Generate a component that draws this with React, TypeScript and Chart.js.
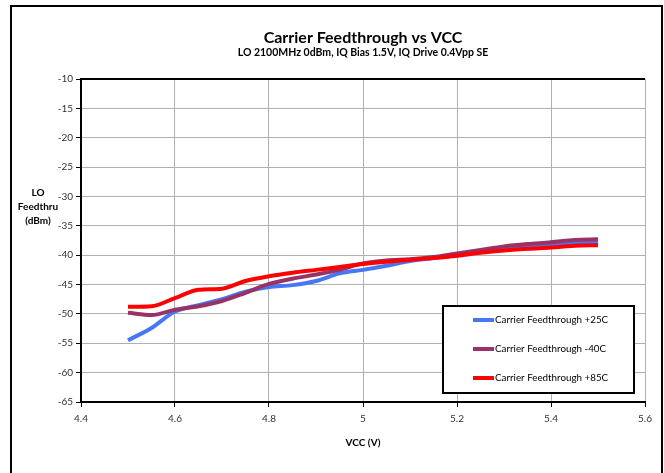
import React, { useEffect, useRef } from "react";
import { Chart, registerables } from "chart.js";

Chart.register(...registerables);

const vcc = [4.5, 4.55, 4.6, 4.65, 4.7, 4.75, 4.8, 4.85, 4.9, 4.95, 5.0, 5.05, 5.1, 5.15, 5.2, 5.25, 5.3, 5.35, 5.4, 5.45, 5.5];
const feed25 = [-54.5, -52.4, -49.6, -48.5, -47.5, -46.2, -45.4, -45.1, -44.4, -43.1, -42.5, -41.8, -41.0, -40.5, -40.0, -39.4, -39.0, -38.7, -38.4, -38.0, -37.8];
const feedM40 = [-49.8, -50.2, -49.3, -48.7, -47.8, -46.4, -44.9, -44.0, -43.3, -42.5, -41.4, -40.9, -40.7, -40.3, -39.7, -39.1, -38.5, -38.1, -37.8, -37.4, -37.3];
const feed85 = [-48.8, -48.7, -47.3, -45.9, -45.7, -44.4, -43.6, -43.0, -42.5, -42.0, -41.5, -41.1, -40.8, -40.5, -40.1, -39.6, -39.2, -38.9, -38.7, -38.4, -38.3];

const seriesLabels = ["Carrier Feedthrough +25C", "Carrier Feedthrough -40C", "Carrier Feedthrough +85C"];
const seriesColors = ["#4677f5", "#993366", "#ff0000"];

const xTicks = [4.4, 4.6, 4.8, 5.0, 5.2, 5.4, 5.6];
const yTicks = [-65, -60, -55, -50, -45, -40, -35, -30, -25, -20, -15, -10];

const titleText = "Carrier Feedthrough vs VCC";
const subtitleText = "LO 2100MHz 0dBm, IQ Bias 1.5V, IQ Drive 0.4Vpp SE";
const yTitleLines = ["LO", "Feedthru", "(dBm)"];
const xTitleText = "VCC (V)";

const FONT = "Lato, 'Open Sans', sans-serif";

const decorPlugin = {
  id: "decor",
  afterDraw(chart: any) {
    const ctx = chart.ctx as CanvasRenderingContext2D;
    const ca = chart.chartArea;
    const cx = (ca.left + ca.right) / 2;
    ctx.save();
    // outer frame
    ctx.strokeStyle = "#000";
    ctx.lineWidth = 2;
    ctx.strokeRect(11, 6, 651, 480);
    // top border of plot area
    ctx.beginPath();
    ctx.moveTo(ca.left, ca.top);
    ctx.lineTo(ca.right, ca.top);
    ctx.stroke();
    // titles
    ctx.fillStyle = "#000";
    ctx.textAlign = "center";
    ctx.textBaseline = "middle";
    ctx.font = `bold 16px ${FONT}`;
    ctx.fillText(titleText, cx, 38);
    ctx.font = `bold 10.5px ${FONT}`;
    ctx.fillText(subtitleText, cx, 53);
    ctx.font = `bold 10px ${FONT}`;
    yTitleLines.forEach((t, i) => ctx.fillText(t, 38, 193 + i * 14));
    ctx.fillText(xTitleText, cx, 443);
    // legend
    const lx = 443, ly = 306, lw = 191, lh = 87;
    ctx.fillStyle = "#fff";
    ctx.fillRect(lx, ly, lw, lh);
    ctx.strokeStyle = "#000";
    ctx.lineWidth = 2;
    ctx.strokeRect(lx, ly, lw, lh);
    const rows = [320, 349, 378];
    chart.data.datasets.forEach((ds: any, i: number) => {
      const y = rows[i];
      ctx.strokeStyle = ds.borderColor;
      ctx.lineWidth = 4;
      ctx.beginPath();
      ctx.moveTo(473, y);
      ctx.lineTo(494, y);
      ctx.stroke();
      ctx.fillStyle = "#000";
      ctx.textAlign = "left";
      ctx.font = `9.8px ${FONT}`;
      ctx.fillText(ds.label, 495, y);
    });
    ctx.restore();
  },
};

export default function App() {
  const ref = useRef<HTMLCanvasElement | null>(null);
  useEffect(() => {
    document.body.style.margin = "0";
    const canvas = ref.current!;
    const seriesValues = [feed25, feedM40, feed85];
    const chart = new Chart(canvas, {
      type: "line",
      data: {
        datasets: seriesValues.map((vals, i) => ({
          label: seriesLabels[i],
          data: vcc.map((x, j) => ({ x, y: vals[j] })),
          borderColor: seriesColors[i],
          backgroundColor: seriesColors[i],
          borderWidth: 4,
          pointRadius: 0,
          cubicInterpolationMode: "monotone" as const,
          order: 2 - i,
          fill: false,
        })),
      },
      options: {
        responsive: false,
        animation: false,
        devicePixelRatio: 1,
        layout: { padding: { top: 79, right: 19, left: 0, bottom: 0 } },
        plugins: {
          legend: { display: false },
          title: { display: false },
          tooltip: { enabled: false },
        },
        scales: {
          x: {
            type: "linear",
            min: 4.4,
            max: 5.6,
            afterBuildTicks: (s: any) => {
              s.ticks = xTicks.map((v) => ({ value: v }));
            },
            afterFit: (s: any) => {
              s.height = 71;
            },
            ticks: {
              font: { family: FONT, size: 10 },
              color: "#333",
              padding: 6,
              maxRotation: 0,
              callback: (v: any) => String(Number(Number(v).toFixed(1))),
            },
            grid: { color: "#b0b0b0", lineWidth: 1, tickLength: 5, tickColor: "#000", drawOnChartArea: true },
            border: { color: "#000", width: 2 },
          },
          y: {
            type: "linear",
            min: -65,
            max: -10,
            afterBuildTicks: (s: any) => {
              s.ticks = yTicks.map((v) => ({ value: v }));
            },
            afterFit: (s: any) => {
              s.width = 81;
            },
            ticks: {
              font: { family: FONT, size: 10 },
              color: "#333",
              padding: 3,
            },
            grid: { color: "#b0b0b0", lineWidth: 1, tickLength: 5, tickColor: "#000" },
            border: { color: "#000", width: 2 },
          },
        },
      },
      plugins: [decorPlugin],
    });
    return () => chart.destroy();
  }, []);
  return <canvas ref={ref} width={664} height={473} style={{ display: "block", width: 664, height: 473 }} />;
}
